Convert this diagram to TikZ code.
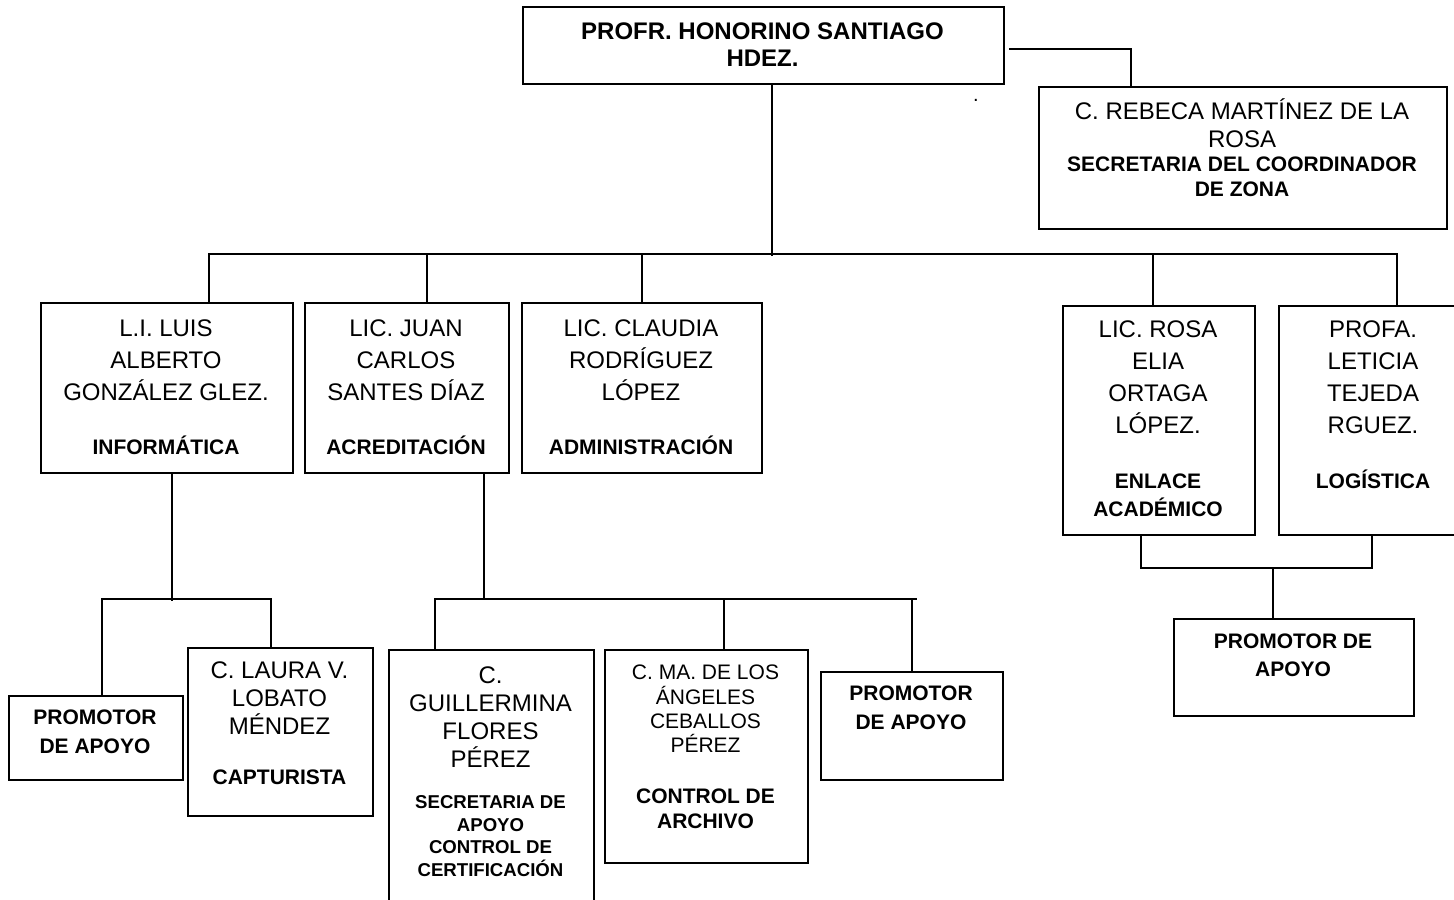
\documentclass[tikz,border=0pt]{standalone}
\usepackage{fontspec}
\setmainfont{Liberation Sans}
\usepackage{tikz}
\usetikzlibrary{positioning}

\tikzset{
  box/.style={draw, line width=0.8pt, inner sep=0pt, anchor=north west},
  txt/.style={inner sep=0pt, align=center, anchor=north},
  nm/.style={txt, font=\fontsize{12}{#1}\selectfont},
  rl/.style={txt, font=\bfseries\fontsize{10.5}{#1}\selectfont},
  link/.style={line width=0.8pt}
}

\begin{document}
\begin{tikzpicture}[x=0.5pt, y=-0.5pt]
    \useasboundingbox (0,0) rectangle (1454,899);
    \clip (0,0) rectangle (1454,899);

    % Coordinador
    \node[box, minimum width=240.5pt, minimum height=38.5pt] (top) at (522,6) {};
    \node[txt, font=\bfseries\fontsize{12}{13.5}\selectfont] (top-t) at (762.5,22.4) {PROFR. HONORINO SANTIAGO\\HDEZ.};
    \node[inner sep=0pt, font=\fontsize{10}{12}\selectfont] (dot) at (976,100) {.};

    % Secretaria
    \node[box, minimum width=204pt, minimum height=71pt] (reb) at (1038,86) {};
    \node[nm=14pt] (reb-n) at (1242,98) {C. REBECA MARTÍNEZ DE LA\\ROSA};
    \node[rl=12.5pt] (reb-r) at (1242,156.5) {SECRETARIA DEL COORDINADOR\\DE ZONA};

    % Primer nivel
    \node[box, minimum width=126pt, minimum height=85pt] (luis) at (40,302) {};
    \node[nm=16pt] (luis-n) at (166,319.4) {L.I. LUIS\\ALBERTO\\GONZÁLEZ GLEZ.};
    \node[rl=12pt, anchor=base] (luis-r) at (166,454.5) {INFORMÁTICA};

    \node[box, minimum width=102pt, minimum height=85pt] (juan) at (304,302) {};
    \node[nm=16pt] (juan-n) at (406,319.4) {LIC. JUAN\\CARLOS\\SANTES DÍAZ};
    \node[rl=12pt, anchor=base] (juan-r) at (406,454.5) {ACREDITACIÓN};

    \node[box, minimum width=120pt, minimum height=85pt] (clau) at (521,302) {};
    \node[nm=16pt] (clau-n) at (641,319.4) {LIC. CLAUDIA\\RODRÍGUEZ\\LÓPEZ};
    \node[rl=12pt, anchor=base] (clau-r) at (641,454.5) {ADMINISTRACIÓN};

    \node[box, minimum width=96pt, minimum height=114.5pt] (rosa) at (1062,305) {};
    \node[nm=16pt] (rosa-n) at (1158,320.4) {LIC. ROSA\\ELIA\\ORTAGA\\LÓPEZ.};
    \node[rl=14pt] (rosa-r) at (1158,473.5) {ENLACE\\ACADÉMICO};

    \node[box, minimum width=95pt, minimum height=114.5pt] (leti) at (1278,305) {};
    \node[nm=16pt] (leti-n) at (1373,320.4) {PROFA.\\LETICIA\\TEJEDA\\RGUEZ.};
    \node[rl=12pt, anchor=base] (leti-r) at (1373,488.5) {LOGÍSTICA};

    % Segundo nivel
    \node[box, minimum width=87pt, minimum height=42pt] (promL) at (8,695) {};
    \node[rl=14.5pt] (promL-t) at (95,709.5) {PROMOTOR\\DE APOYO};

    \node[box, minimum width=92.5pt, minimum height=84pt] (laura) at (187,647) {};
    \node[nm=14pt] (laura-n) at (279.5,661.4) {C. LAURA V.\\LOBATO\\MÉNDEZ};
    \node[rl=12pt, anchor=base] (laura-r) at (279.5,784.5) {CAPTURISTA};

    \node[box, minimum width=102.5pt, minimum height=145.5pt] (guill) at (388,649) {};
    \node[nm=14pt] (guill-n) at (490.5,666.4) {C.\\GUILLERMINA\\FLORES\\PÉREZ};
    \node[txt, font=\bfseries\fontsize{9.3}{11.3}\selectfont] (guill-r) at (490.5,795.3) {SECRETARIA DE\\APOYO\\CONTROL DE\\CERTIFICACIÓN};

    \node[box, minimum width=101.5pt, minimum height=106.5pt] (ang) at (604,649) {};
    \node[txt, font=\fontsize{10.5}{12.2}\selectfont] (ang-n) at (705.5,664.6) {C. MA. DE LOS\\ÁNGELES\\CEBALLOS\\PÉREZ};
    \node[rl=12.5pt] (ang-r) at (705.5,788.5) {CONTROL DE\\ARCHIVO};

    \node[box, minimum width=91pt, minimum height=54pt] (promM) at (820,671) {};
    \node[rl=14.5pt] (promM-t) at (911,685.5) {PROMOTOR\\DE APOYO};

    \node[box, minimum width=120pt, minimum height=48.5pt] (promR) at (1173,618) {};
    \node[rl=14pt] (promR-t) at (1293,633.5) {PROMOTOR DE\\APOYO};

    % Lineas del coordinador
    \coordinate (hub) at (772,256);
    \draw[link] (top.south -| hub) -- (hub);
    \coordinate (secL) at (1009,49);
    \coordinate (secR) at (1131,49);
    \draw[link] (secL) -- (secR) -- (secR |- reb.north);

    % Barra del primer nivel
    \coordinate (busL) at (209,254);
    \coordinate (busR) at (1397,254);
    \draw[link] (busL |- luis.north) -- (busL) -- (busR) -- (busR |- leti.north);
    \foreach \n/\x in {juan/427, clau/642, rosa/1153} {
        \coordinate (\n-up) at (\x,254);
        \draw[link] (\n-up) -- (\n-up |- \n.north);
    }

    % Informatica
    \coordinate (inf) at (172,601);
    \coordinate (infL) at (102,599);
    \coordinate (infR) at (271,599);
    \draw[link] (luis.south -| inf) -- (inf);
    \draw[link] (infL |- promL.north) -- (infL) -- (infR) -- (infR |- laura.north);

    % Acreditacion
    \coordinate (acr) at (484,599);
    \coordinate (acrL) at (435,599);
    \coordinate (acrR) at (917,599);
    \coordinate (acrA) at (724,599);
    \coordinate (acrP) at (912,599);
    \draw[link] (juan.south -| acr) -- (acr);
    \draw[link] (acrL |- guill.north) -- (acrL) -- (acrR);
    \draw[link] (acrA) -- (acrA |- ang.north);
    \draw[link] (acrP) -- (acrP |- promM.north);

    % Enlace y logistica
    \coordinate (enlL) at (1141,568);
    \coordinate (enlR) at (1372,568);
    \coordinate (enlM) at (1273,568);
    \draw[link] (rosa.south -| enlL) -- (enlL) -- (enlR) -- (leti.south -| enlR);
    \draw[link] (enlM) -- (enlM |- promR.north);
\end{tikzpicture}
\end{document}
